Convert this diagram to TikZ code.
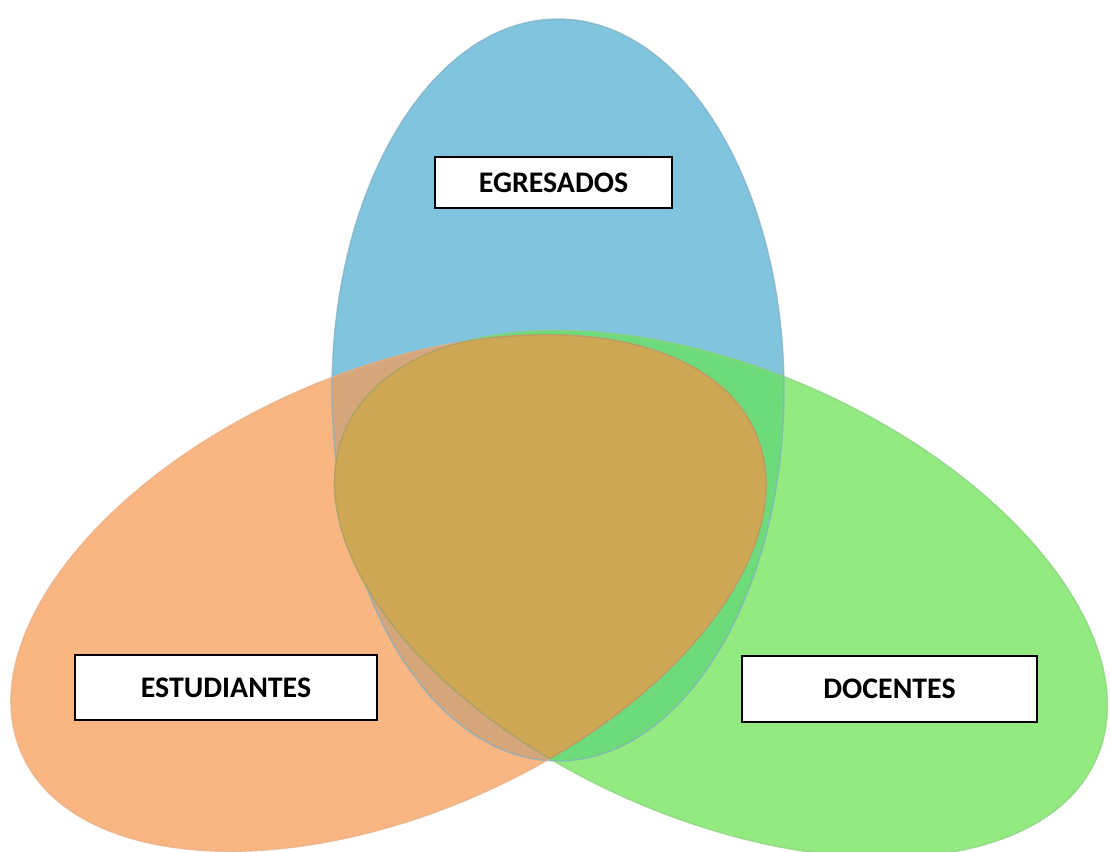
\documentclass[tikz,border=0pt]{standalone}
\usepackage{fontspec}
\setmainfont{Carlito}
\usetikzlibrary{positioning}

\definecolor{egrblue}{RGB}{128,196,222}
\definecolor{estorange}{RGB}{249,182,131}
\definecolor{docgreen}{RGB}{146,234,128}
\definecolor{blueorange}{RGB}{213,165,124}
\definecolor{bluegreen}{RGB}{110,219,122}
\definecolor{allthree}{RGB}{206,168,84}

\tikzset{
  setlabel/.style={draw=black, line width=1pt, fill=white, inner sep=0pt,
    font=\bfseries\fontsize{17}{20}\selectfont},
  rim/.style={line width=0.8pt, draw opacity=0.7},
}

\newcommand{\egrset}{(cb) ellipse [x radius=4.52cm, y radius=7.42cm]}
\newcommand{\estset}{(co) ellipse [x radius=8.01cm, y radius=4.42cm, rotate=23.6]}
\newcommand{\docset}{(cg) ellipse [x radius=8.2cm, y radius=4.5cm, rotate=-23.6]}

\begin{document}
\begin{tikzpicture}
  \useasboundingbox (0,0) rectangle (22.2,17.02);

  \coordinate (cb) at (11.16,9.22) ;
  \coordinate (co) at (7.77,5.16) ;
  \coordinate (cg) at (14.42,5.14) ;

  \fill[egrblue] \egrset;
  \fill[estorange] \estset;
  \fill[docgreen] \docset;

  % overlaps with the blue one
  \begin{scope}
    \clip \egrset;
    \fill[blueorange] \estset;
    \fill[bluegreen] \docset;
  \end{scope}

  \draw[rim, draw=egrblue!70!gray] \egrset;
  \draw[rim, draw=estorange!85!gray] \estset;
  \draw[rim, draw=docgreen!75!gray] \docset;

  % middle part
  \begin{scope}
    \clip \estset;
    \fill[allthree] \docset;
    \draw[rim, draw=allthree!60!gray] \docset;
  \end{scope}
  \begin{scope}
    \clip \docset;
    \draw[rim, draw=allthree!60!gray] \estset;
  \end{scope}

  \node[setlabel, minimum width=4.74cm, minimum height=1.02cm] (egresados) at (11.07,13.37) {EGRESADOS};
  \node[setlabel, minimum width=6.04cm, minimum height=1.3cm] (estudiantes) at (4.52,3.27) {ESTUDIANTES};
  \node[setlabel, minimum width=5.9cm, minimum height=1.32cm] (docentes) at (17.79,3.24) {DOCENTES};

\end{tikzpicture}
\end{document}
